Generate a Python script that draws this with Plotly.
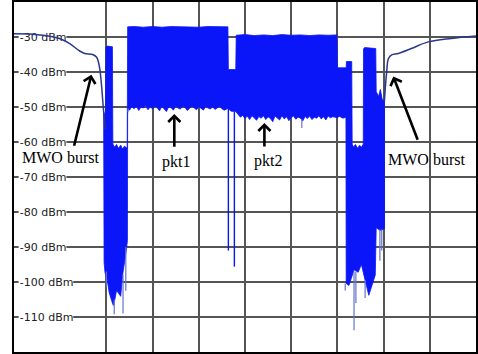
import plotly.graph_objects as go

# ---- power trace (time axis in divisions, level in dBm) ----
# Microwave-oven burst: smooth decaying level at the left edge
mwo_left_x = [0.0, 0.41, 0.625, 0.884, 1.034, 1.207, 1.422, 1.530, 1.703, 1.789, 1.853, 1.897, 1.940, 1.983]
mwo_left_dbm = [-29.1, -29.2, -29.5, -30.1, -30.7, -31.9, -34.0, -34.7, -35.0, -35.8, -38.8, -44.2, -51.3, -56.4]

# Microwave-oven burst: recovering level at the right edge
mwo_right_x = [8.017, 8.039, 8.067, 8.103, 8.175, 8.319, 8.599, 8.966, 9.461, 10.0]
mwo_right_dbm = [-48.4, -44.2, -39.9, -36.2, -35.1, -34.7, -33.3, -31.4, -30.4, -29.7]

# Upper envelope of the dense sample region (bursts + pkt1 + pkt2)
env_top_x = [1.94, 1.98, 1.99, 2.02, 2.13, 2.14, 2.18, 2.22, 2.26, 2.31, 2.35, 2.39, 2.45,
             2.46, 2.6, 2.8, 3.0, 3.2, 3.4, 3.6, 3.8, 4.0, 4.2, 4.4, 4.63,
             4.64, 4.80,
             4.81, 5.0, 5.2, 5.4, 5.6, 5.8, 6.0, 6.2, 6.4, 6.6, 6.8, 6.99,
             7.00, 7.19, 7.195, 7.31,
             7.32, 7.35, 7.39, 7.44, 7.48, 7.52, 7.56,
             7.565, 7.59, 7.83,
             7.84, 7.89, 7.93, 7.97, 8.02]
env_top_dbm = [-51.3, -53.0, -32.9, -32.6, -32.8, -60.6, -61.5, -60.7, -61.8, -60.9, -62.0, -61.2, -61.8,
               -27.1, -27.0, -27.2, -27.0, -27.2, -27.0, -27.1, -27.0, -27.2, -27.0, -27.1, -27.1,
               -39.3, -39.3,
               -29.5, -29.3, -29.6, -29.4, -29.6, -29.3, -29.5, -29.4, -29.6, -29.4, -29.5, -29.4,
               -38.8, -38.8, -37.0, -37.0,
               -60.6, -61.5, -60.7, -61.8, -60.9, -61.5, -60.6,
               -33.4, -33.0, -33.3,
               -45.6, -47.0, -45.0, -47.8, -48.4]

# Lower envelope of the dense sample region
env_bot_x = [1.94, 1.95, 1.97, 2.02, 2.06, 2.11, 2.15, 2.18, 2.22, 2.26, 2.31, 2.35, 2.39, 2.43, 2.455,
             2.46, 2.5, 2.55, 2.6, 2.65, 2.7, 2.75, 2.8, 2.85, 2.9, 2.95, 3.0, 3.05, 3.1, 3.15, 3.2,
             3.25, 3.3, 3.35, 3.4, 3.45, 3.5, 3.55, 3.6, 3.65, 3.7, 3.75, 3.8, 3.85, 3.9, 3.95, 4.0,
             4.05, 4.1, 4.15, 4.2, 4.25, 4.3, 4.35, 4.4, 4.45, 4.5, 4.55, 4.63,
             4.7, 4.80,
             4.85, 4.9, 4.95, 5.0, 5.05, 5.1, 5.15, 5.2, 5.25, 5.3, 5.35, 5.4, 5.45, 5.5, 5.55, 5.6,
             5.65, 5.7, 5.75, 5.8, 5.85, 5.9, 5.95, 6.0, 6.05, 6.1, 6.15, 6.2, 6.25, 6.3, 6.35, 6.4,
             6.45, 6.5, 6.55, 6.6, 6.65, 6.7, 6.75, 6.8, 6.85, 6.9, 6.99,
             7.05, 7.12, 7.185,
             7.19, 7.25, 7.30, 7.36, 7.45, 7.52, 7.60, 7.68, 7.75, 7.82,
             7.84, 7.93, 8.02]
env_bot_dbm = [-51.3, -94.4, -97.3, -99.6, -103.0, -105.2, -106.7, -105.2, -102.4, -103.0, -104.1, -98.1, -94.4, -91.0, -88.2,
               -50.4, -50.9, -49.9, -50.5, -49.7, -51.0, -50.0, -50.3, -49.6, -50.8, -49.9, -50.6,
               -49.7, -50.2, -51.1, -49.8, -50.4, -51.3, -49.9, -50.2, -50.9, -49.7, -50.3, -50.6,
               -49.8, -50.1, -51.0, -50.4, -49.7, -50.2, -50.8, -49.9, -50.5, -50.9, -49.8, -50.3,
               -50.6, -49.9, -50.7, -50.2, -49.8, -50.5, -50.9, -50.4,
               -51.2, -51.3,
               -52.2, -52.9, -52.4, -53.3, -52.6, -53.6, -52.5, -53.1, -53.8, -52.7, -53.2, -52.5,
               -53.6, -52.8, -53.3, -54.2, -52.6, -53.1, -53.7, -52.5, -53.4, -52.8, -53.9, -53.0,
               -52.6, -53.5, -52.9, -53.2, -54.0, -52.7, -53.3, -52.6, -53.6, -52.9, -53.2, -52.5,
               -53.4, -52.8, -53.7, -52.6, -53.1, -52.8, -53.0,
               -52.7, -53.2, -52.9,
               -100.4, -101.0, -99.0, -96.5, -97.2, -95.0, -99.5, -103.8, -101.0, -98.0,
               -84.5, -85.3, -84.8]

# Isolated low samples hanging under the envelope (faint)
spike_x = [2.00, 2.17, 2.36, 2.42, 2.47, 6.23, 7.17, 7.36, 7.40, 7.60, 7.92, 7.96]
spike_hi = [-97.0, -105.0, -98.0, -90.0, -50.4, -53.5, -100.4, -97.0, -97.0, -99.5, -85.0, -85.0]
spike_lo = [-101.5, -109.2, -109.0, -102.5, -51.5, -56.0, -102.4, -113.8, -106.0, -104.6, -93.9, -91.0]

# Deep dips in the inter-packet gap (full colour)
gap_spike_x = [4.64, 4.77]
gap_spike_hi = [-50.4, -51.3]
gap_spike_lo = [-91.0, -95.6]

# Level axis labels
tick_vals = [-30, -40, -50, -60, -70, -80, -90, -100, -110]
tick_text = ["-30 dBm", "-40 dBm", "-50 dBm", "-60 dBm", "-70 dBm",
             "-80 dBm", "-90 dBm", "-100 dBm", "-110 dBm"]

# Callouts: label, label position, arrow tail, arrow tip
callout_text = ["MWO burst", "pkt1", "pkt2", "MWO burst"]
callout_pos = [(1.00, -64.3), (3.50, -65.8), (5.50, -65.5), (8.92, -64.9)]
callout_tail = [(1.293, -61.5), (3.47, -61.8), (5.42, -61.7), (8.75, -59.8)]
callout_tip = [(1.675, -40.8), (3.47, -52.0), (5.42, -54.6), (8.21, -41.3)]

FILL = "rgb(10,22,248)"
FAINT = "rgb(100,115,205)"
NAVY = "rgb(42,55,140)"


def segments(xs, his, los):
    sx, sy = [], []
    for x, h, l in zip(xs, his, los):
        sx += [x, x, None]
        sy += [h, l, None]
    return sx, sy


fig = go.Figure()

poly_x = env_top_x + env_bot_x[::-1]
poly_y = env_top_dbm + env_bot_dbm[::-1]
fig.add_trace(go.Scatter(x=poly_x, y=poly_y, mode="lines", fill="toself",
                         fillcolor=FILL, line=dict(color=FILL, width=0.8),
                         hoverinfo="skip", showlegend=False))

sx, sy = segments(spike_x, spike_hi, spike_lo)
fig.add_trace(go.Scatter(x=sx, y=sy, mode="lines", line=dict(color=FAINT, width=1.2),
                         hoverinfo="skip", showlegend=False))

gx, gy = segments(gap_spike_x, gap_spike_hi, gap_spike_lo)
fig.add_trace(go.Scatter(x=gx, y=gy, mode="lines", line=dict(color=FILL, width=1.4),
                         hoverinfo="skip", showlegend=False))

fig.add_trace(go.Scatter(x=mwo_left_x, y=mwo_left_dbm, mode="lines",
                         line=dict(color=NAVY, width=1.5, shape="spline"),
                         hoverinfo="skip", showlegend=False))
fig.add_trace(go.Scatter(x=mwo_right_x, y=mwo_right_dbm, mode="lines",
                         line=dict(color=NAVY, width=1.5, shape="spline"),
                         hoverinfo="skip", showlegend=False))

# white boxes under the level labels so the grid does not run through them
for v, t in zip(tick_vals, tick_text):
    w = 0.105 + len(t) * 0.147
    fig.add_shape(type="rect", xref="x", yref="y", x0=0.1, x1=w,
                  y0=v - 1.9, y1=v + 1.9, fillcolor="white",
                  line=dict(width=0), layer="between")

for txt, (px, py), (tx, ty), (hx, hy) in zip(callout_text, callout_pos, callout_tail, callout_tip):
    fig.add_annotation(x=hx, y=hy, ax=tx, ay=ty, xref="x", yref="y", axref="x", ayref="y",
                       text="", showarrow=True, arrowhead=4, arrowsize=0.9,
                       arrowwidth=2.6, arrowcolor="black", standoff=0)
    fig.add_annotation(x=px, y=py, xref="x", yref="y", text=txt, showarrow=False,
                       font=dict(family="Liberation Serif", size=16, color="black"),
                       xanchor="center", yanchor="middle")

fig.update_xaxes(range=[0, 10], tick0=0, dtick=1, showticklabels=False, ticks="",
                 showgrid=True, gridcolor="#555555", gridwidth=1.5, zeroline=False,
                 showline=True, mirror=True, linecolor="black", linewidth=2)
fig.update_yaxes(range=[-120, -20], tickmode="array", tickvals=tick_vals, ticktext=tick_text,
                 ticklabelposition="inside", ticks="", ticklabelstandoff=5,
                 tickfont=dict(family="DejaVu Sans", size=11, color="#222222"),
                 showgrid=True, gridcolor="#555555", gridwidth=1.5, zeroline=False,
                 showline=True, mirror=True, linecolor="black", linewidth=2,
                 layer="below traces")

fig.update_layout(width=478, height=354, margin=dict(l=14, r=0, t=0, b=2),
                  paper_bgcolor="white", plot_bgcolor="white")

fig.write_html("out.html")
